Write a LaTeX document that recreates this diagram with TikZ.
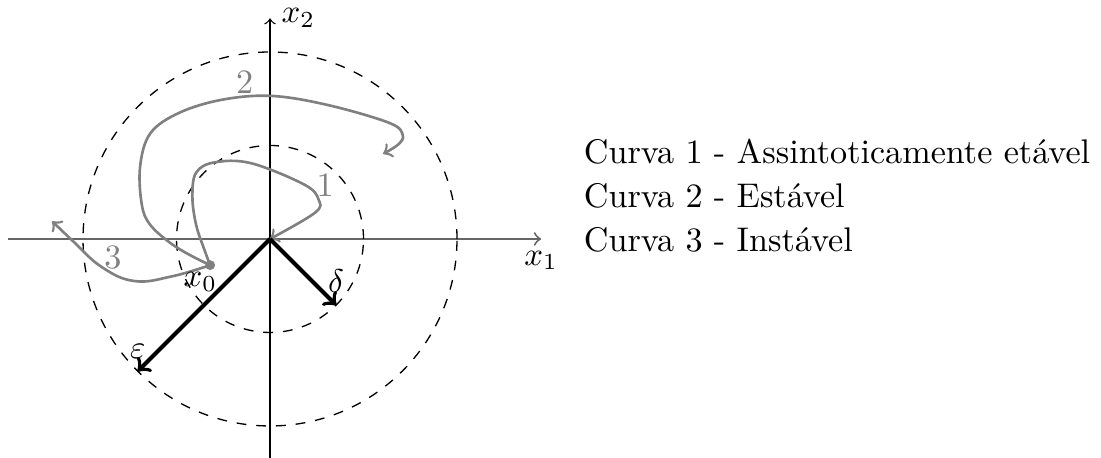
\documentclass[tikz,border=0pt]{standalone}
\usepackage{tikz}
\usepackage{amsmath}
\usetikzlibrary{calc}

\begin{document}
\begin{tikzpicture}[
    font=\fontsize{10.4}{12.5}\selectfont,
    curve/.style={thick, black!50},
    vec/.style={very thick, ->},
    radius/.style={dashed}
  ]
  \useasboundingbox (-2.888, -2.332) rectangle (8.888, 2.556);
  % axes
  \coordinate (O) at (0, 0);
  \coordinate (xl) at (-2.8, 0);
  \coordinate (xr) at (2.9, 0);
  \coordinate (yb) at (0, -2.35);
  \coordinate (yt) at (0, 2.36);
  \draw[->, black!60, line width=0.6pt] (xl) -- (xr) node[below, black] (x1) {$x_1$};
  \draw[->] (yb) -- (yt) node[right] (x2) {$x_2$};
  % regions
  \draw[radius] (O) circle (1);
  \draw[radius] (O) circle (2);
  % trajectories
  \coordinate (x0) at (-0.64, -0.28);
  \draw[curve, ->] plot[smooth, tension=0.6] coordinates {(x0) (-0.70, -0.12) (-0.79, 0.15) (-0.83, 0.45) (-0.79, 0.71) (-0.59, 0.82) (-0.20, 0.81) (0.37, 0.58) (0.52, 0.42) (0.48, 0.28) (O)};
  \draw[curve, ->] plot[smooth, tension=0.6] coordinates {(x0) (-0.86, -0.17) (-1.07, -0.04) (-1.28, 0.15) (-1.37, 0.36) (-1.39, 0.77) (-1.28, 1.13) (-0.97, 1.35) (-0.51, 1.49) (0.02, 1.53) (0.63, 1.43) (1.28, 1.24) (1.42, 1.11) (1.37, 1.01) (1.21, 0.91)};
  \draw[curve, ->] plot[smooth, tension=0.7] coordinates {(x0) (-1.05, -0.40) (-1.45, -0.45) (-1.80, -0.30) (-2.10, -0.03) (-2.33, 0.19)};
  \fill[black!50] (x0) circle (1.5pt);
  \node[below, xshift=-3pt, inner sep=2pt] (x0lbl) at (x0) {$x_0$};
  \node[black!50] (c1) at (0.59, 0.58) {1};
  \node[black!50] (c2) at (-0.27, 1.68) {2};
  \node[black!50] (c3) at (-1.68, -0.20) {3};
  % delta and epsilon
  \coordinate (d) at (-45:1);
  \coordinate (e) at (225:2);
  \draw[vec] (O) -- (d) node[above] (dlbl) {$\delta$};
  \draw[vec] (O) -- (e) node[above] (elbl) {$\varepsilon$};
  % legend
  \node[anchor=west, inner sep=0pt] (l1) at (3.35, 0.93) {Curva 1 - Assintoticamente etável};
  \node[anchor=west, inner sep=0pt] (l2) at (3.35, 0.46) {Curva 2 - Estável};
  \node[anchor=west, inner sep=0pt] (l3) at (3.35, -0.01) {Curva 3 - Instável};
\end{tikzpicture}
\end{document}
